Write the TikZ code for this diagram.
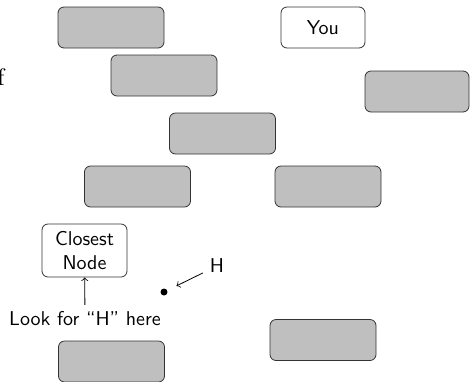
\documentclass[tikz,border=0pt]{standalone}
\usepackage{amsmath}
\usepackage{tikz}
\usepackage{color}

\begin{document}
\begin{tikzpicture}[x=0.5pt,y=-0.5pt,
	every node/.style={font=\sffamily},
	entry/.style={draw=black!80,fill=gray!50,rounded corners=3pt,minimum width=53pt,minimum height=20.5pt,inner sep=0pt},
	marked/.style={draw=black!80,fill=white,rounded corners=3pt,minimum height=20.5pt,inner sep=0pt,align=center}]
	\useasboundingbox (0,0) rectangle (470,381);
	\node [font=\rmfamily\large,anchor=east,inner sep=0pt] (cut) at (5,77) {f};
	\node [entry] (e1) at (111,27.5) {};
	\node [marked,minimum width=42pt] (you) at (323,27.5) {You};
	\node [entry] (e2) at (164,75.5) {};
	\node [entry,minimum width=52pt] (e3) at (417,91.5) {};
	\node [entry] (e4) at (222.5,133.5) {};
	\node [entry] (e5) at (137.5,186.5) {};
	\node [entry] (e6) at (328,186.5) {};
	\node [marked,minimum width=42.5pt,minimum height=26.5pt] (closest) at (84.5,250.5) {Closest\\Node};
	\node [entry] (e7) at (111.5,361.5) {};
	\node [entry] (e8) at (323,340) {};
	\node [circle,fill=black,inner sep=0pt,minimum size=3.5pt] (hdot) at (164,292) {};
	\node (hlbl) at (217,266) {H};
	\node (look) at (85,319) {Look for ``H'' here};
	\draw [->] (hlbl) -- (hdot) [shorten >=5pt];
	\draw [->] (look) -- (closest);
\end{tikzpicture}
\end{document}
